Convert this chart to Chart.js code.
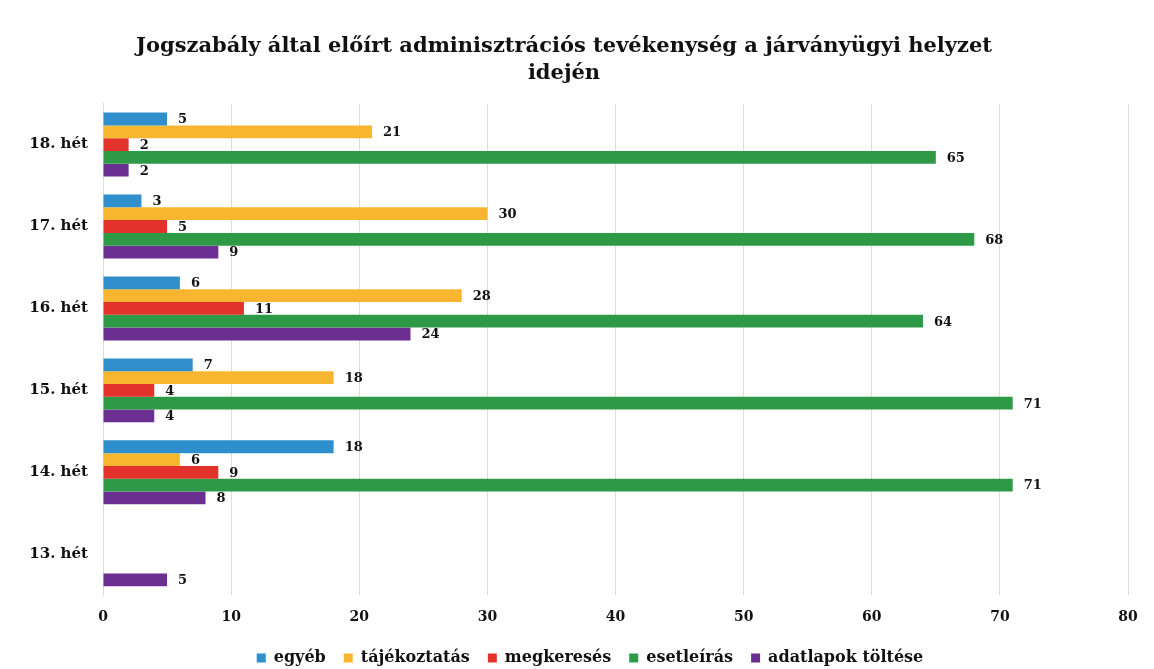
<!DOCTYPE html>
<html>
<head>
<meta charset="utf-8">
<script src="https://cdn.jsdelivr.net/npm/chart.js@4"></script>
<style>
  html, body { margin: 0; padding: 0; background: #ffffff; }
  #wrap { width: 1154px; height: 669px; }
</style>
</head>
<body>
<div id="wrap"><canvas id="chart"></canvas></div>
<script>
// categories, top to bottom
const weeks = ['18. hét', '17. hét', '16. hét', '15. hét', '14. hét', '13. hét'];

// series values per week
const egyeb = [5, 3, 6, 7, 18, null];
const tajekoztatas = [21, 30, 28, 18, 6, null];
const megkereses = [2, 5, 11, 4, 9, null];
const esetleiras = [65, 68, 64, 71, 71, null];
const adatlapok = [2, 9, 24, 4, 8, 5];

const xTicks = [0, 10, 20, 30, 40, 50, 60, 70, 80];

const serif = '"DejaVu Serif", "Liberation Serif", serif';

// draws the value next to the end of each bar
const valueLabels = {
    id: 'valueLabels',
    afterDatasetsDraw: function (chart) {
        const ctx = chart.ctx;
        ctx.save();
        ctx.font = 'bold 13px ' + serif;
        ctx.fillStyle = '#111111';
        ctx.textAlign = 'left';
        ctx.textBaseline = 'middle';
        chart.data.datasets.forEach((ds, i) => {
            const meta = chart.getDatasetMeta(i);
            meta.data.forEach((bar, j) => {
                const v = ds.data[j];
                if (v === null || v === undefined) return;
                ctx.fillText(String(v), bar.x + 11, bar.y + 1);
            });
        });
        ctx.restore();
    }
};

// the legend sits a little right of centre in the original
const legendShift = {
    id: 'legendShift',
    afterLayout: function (chart) {
        if (chart.legend) {
            chart.legend.left += 26;
            chart.legend.right += 26;
        }
    }
};

const ctx = document.getElementById('chart').getContext('2d');
new Chart(ctx, {
    type: 'bar',
    data: {
        labels: weeks,
        datasets: [
            { label: 'egyéb', data: egyeb, backgroundColor: '#2f8fcc' },
            { label: 'tájékoztatás', data: tajekoztatas, backgroundColor: '#f8b630' },
            { label: 'megkeresés', data: megkereses, backgroundColor: '#e2322b' },
            { label: 'esetleírás', data: esetleiras, backgroundColor: '#2e9a48' },
            { label: 'adatlapok töltése', data: adatlapok, backgroundColor: '#6b2e91' }
        ]
    },
    options: {
        indexAxis: 'y',
        responsive: true,
        maintainAspectRatio: false,
        animation: false,
        layout: { padding: { left: 0, right: 26, top: 0, bottom: -7 } },
        datasets: {
            bar: { categoryPercentage: 0.78, barPercentage: 1.0 }
        },
        scales: {
            x: {
                min: 0,
                max: 80,
                afterBuildTicks: function (scale) {
                    scale.ticks = xTicks.map(v => ({ value: v }));
                },
                // let the plot reach a bit further down, as in the original
                afterFit: function (scale) { scale.height -= 8; },
                grid: { color: '#dcdcdc', drawTicks: false },
                border: { display: false },
                ticks: {
                    color: '#111111',
                    padding: 14,
                    font: { family: serif, size: 14, weight: 'bold' }
                }
            },
            y: {
                afterFit: function (scale) { scale.width = 103; },
                grid: { display: false },
                border: { display: true, color: '#dcdcdc' },
                ticks: {
                    color: '#111111',
                    padding: 7,
                    font: { family: serif, size: 15, weight: 'bold' }
                }
            }
        },
        plugins: {
            title: {
                display: true,
                text: ['Jogszabály által előírt adminisztrációs tevékenység a járványügyi helyzet', 'idején'],
                color: '#111111',
                font: { family: serif, size: 21, weight: 'bold', lineHeight: 1.3 },
                padding: { top: 33, bottom: 16 }
            },
            legend: {
                position: 'bottom',
                labels: {
                    color: '#111111',
                    boxWidth: 9,
                    boxHeight: 9,
                    padding: 18,
                    font: { family: serif, size: 16, weight: 'bold' }
                }
            },
            tooltip: { enabled: false }
        }
    },
    plugins: [valueLabels, legendShift]
});
</script>
</body>
</html>
